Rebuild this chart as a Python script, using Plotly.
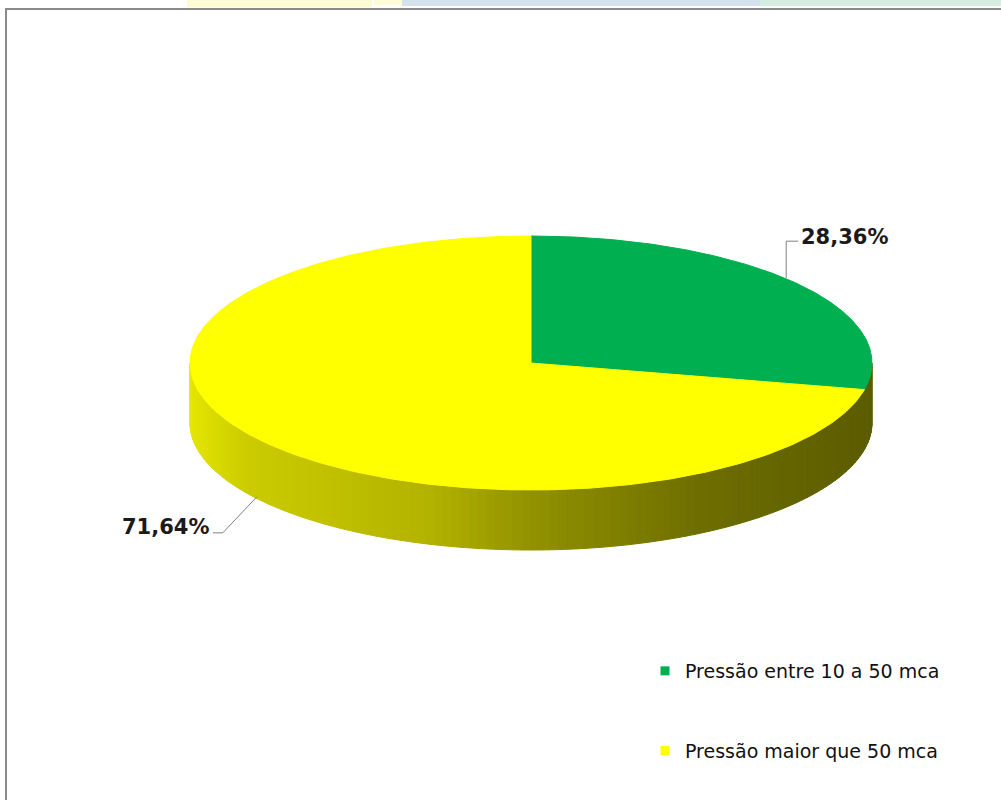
import numpy as np
import plotly.graph_objects as go

# ---- data ----
categories = ["Pressão entre 10 a 50 mca", "Pressão maior que 50 mca"]
values = [28.36, 71.64]
colors = [(0, 176, 80), (255, 255, 0)]
side_color = (255, 255, 0)

# ---- geometry (pixel-like coordinate space) ----
W, H = 1001, 800
cx, cy = 531, 363
a, b = 341, 127
depth = 60

def pt(theta_deg, drop=0.0):
    t = np.radians(theta_deg)
    return cx + a * np.cos(t), cy - b * np.sin(t) + drop

def shade(x):
    t = (x - (cx - a)) / (2 * a)
    ts = [0.0, 0.08, 0.35, 0.5, 0.75, 1.0]
    ss = [0.90, 0.80, 0.70, 0.57, 0.43, 0.36]
    return float(np.interp(t, ts, ss))

def rgb(c, s=1.0):
    return "rgb(%d,%d,%d)" % tuple(int(round(v * s)) for v in c)

fig = go.Figure()

# slice angle spans (clockwise from 12 o'clock)
total = sum(values)
spans = []
start = 90.0
for v in values:
    end = start - 360.0 * v / total
    spans.append((start, end))
    start = end

# ---- side wall (front half: angles 180..360) ----
step = 1.5
angs = np.arange(180, 360, step)
angs = np.append(angs, 360)
for i in range(len(angs) - 1):
    t0, t1 = angs[i], angs[i + 1]
    sub = np.linspace(t0, t1, 4)
    xs_top, ys_top = pt(sub)
    xs_bot, ys_bot = pt(sub[::-1], depth)
    xs = np.concatenate([xs_top, xs_bot, xs_top[:1]])
    ys = np.concatenate([ys_top, ys_bot, ys_top[:1]])
    xm, _ = pt((t0 + t1) / 2)
    c = rgb(side_color, shade(xm))
    fig.add_trace(go.Scatter(x=xs, y=ys, mode="lines", fill="toself",
                             fillcolor=c, line=dict(color=c, width=1),
                             hoverinfo="skip", showlegend=False))

# ---- top face ----
for (s0, s1), col in zip(spans, colors):
    a_s = np.linspace(s0, s1, 300)
    xs, ys = pt(a_s)
    xs = np.concatenate([[cx], xs, [cx]])
    ys = np.concatenate([[cy], ys, [cy]])
    fig.add_trace(go.Scatter(x=xs, y=ys, mode="lines", fill="toself",
                             fillcolor=rgb(col), line=dict(color=rgb(col), width=1),
                             hoverinfo="skip", showlegend=False))

# ---- data labels with leader lines ----
lbl_font = dict(family="DejaVu Sans", size=21, color="#1a1a1a")
for (s0, s1), v in zip(spans, values):
    mid = (s0 + s1) / 2
    txt = ("%.2f%%" % v).replace(".", ",")
    if np.sin(np.radians(mid)) >= 0:
        x0, y0 = pt(mid)
        x0 -= 10
        y0 -= 5
        lx, ly = x0, y0 - 37
        xs, ys = [x0, lx, lx + 12], [y0, ly, ly]
        fig.add_annotation(x=lx + 13, y=ly - 4, text="<b>%s</b>" % txt, showarrow=False,
                           xanchor="left", yanchor="middle", font=lbl_font)
    else:
        x0, y0 = pt(mid, depth)
        x0 -= 9
        y0 -= 6
        xs, ys = [x0, x0 - 34, x0 - 44], [y0, y0 + 36, y0 + 36]
        fig.add_annotation(x=x0 - 46, y=y0 + 30, text="<b>%s</b>" % txt, showarrow=False,
                           xanchor="right", yanchor="middle", font=lbl_font)
    fig.add_trace(go.Scatter(x=xs, y=ys, mode="lines", line=dict(color="#808080", width=1),
                             hoverinfo="skip", showlegend=False))

# ---- legend entries ----
for i, (cat, col) in enumerate(zip(categories, colors)):
    fig.add_trace(go.Scatter(x=[None], y=[None], mode="markers", name=cat,
                             legendgroup="g%d" % i,
                             marker=dict(symbol="square", size=9, color=rgb(col))))

fig.update_layout(
    width=W, height=H,
    margin=dict(l=0, r=0, t=0, b=0),
    paper_bgcolor="white", plot_bgcolor="white",
    xaxis=dict(range=[0, W], visible=False, fixedrange=True),
    yaxis=dict(range=[H, 0], visible=False, fixedrange=True),
    showlegend=True,
    legend=dict(x=645 / W, y=1 - 652 / H, xanchor="left", yanchor="top",
                traceorder="grouped", tracegroupgap=52,
                font=dict(family="DejaVu Sans", size=19, color="#111111"),
                bgcolor="rgba(0,0,0,0)"),
    shapes=[
        dict(type="rect", xref="x", yref="y", x0=187, x1=372, y0=0, y1=7,
             fillcolor="#fffbd2", line=dict(width=0), layer="below"),
        dict(type="rect", xref="x", yref="y", x0=374, x1=402, y0=0, y1=5,
             fillcolor="#fffad8", line=dict(width=0), layer="below"),
        dict(type="rect", xref="x", yref="y", x0=402, x1=760, y0=0, y1=6,
             fillcolor="#d4e2ef", line=dict(width=0), layer="below"),
        dict(type="rect", xref="x", yref="y", x0=760, x1=1001, y0=0, y1=6,
             fillcolor="#d4ece2", line=dict(width=0), layer="below"),
        dict(type="rect", xref="x", yref="y", x0=6, x1=1010, y0=9, y1=810,
             fillcolor="rgba(0,0,0,0)", line=dict(color="#8a8a8a", width=2)),
    ],
)

fig.write_html("out.html", config={"displayModeBar": False},
               post_script="document.body.style.margin='0';document.body.style.overflow='hidden';")
